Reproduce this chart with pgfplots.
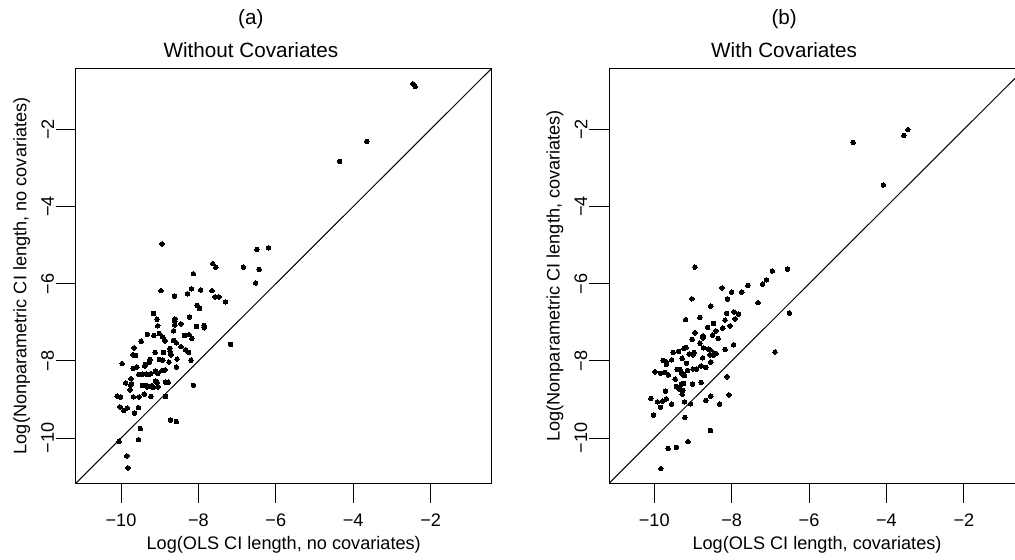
\documentclass[border=0pt]{standalone}
\usepackage{pgfplots}
\pgfplotsset{compat=1.18}
\usepackage{fontspec}
\setmainfont{Liberation Sans}
\pgfplotstableread{
x y
-2.46 -0.82
-2.40 -0.89
-3.65 -2.31
-4.35 -2.83
-8.94 -4.97
-6.49 -5.11
-6.19 -5.07
-7.63 -5.48
-7.55 -5.57
-6.84 -5.57
-6.43 -5.63
-8.13 -5.74
-6.52 -5.98
-8.97 -6.18
-8.18 -6.13
-8.28 -6.26
-7.94 -6.16
-7.65 -6.18
-8.62 -6.32
-7.57 -6.34
-7.47 -6.34
-7.30 -6.47
-8.03 -6.56
-7.97 -6.64
-9.16 -6.77
-9.07 -6.92
-8.61 -6.91
-8.61 -6.98
-8.61 -7.07
-8.64 -7.22
-8.45 -7.04
-8.23 -6.86
-8.05 -7.11
-7.85 -7.08
-7.85 -7.14
-9.05 -7.09
-9.32 -7.31
-9.15 -7.34
-9.01 -7.29
-8.92 -7.38
-8.36 -7.34
-8.24 -7.32
-8.17 -7.42
-9.48 -7.49
-8.86 -7.48
-8.64 -7.47
-8.57 -7.53
-9.66 -7.66
-8.74 -7.68
-8.73 -7.75
-8.71 -7.84
-8.45 -7.63
-8.33 -7.71
-8.25 -7.78
-9.12 -7.78
-8.90 -7.78
-9.69 -7.84
-9.62 -7.86
-9.01 -7.96
-8.92 -7.98
-9.25 -7.96
-9.27 -8.04
-9.37 -8.09
-8.76 -8.03
-8.55 -7.95
-8.19 -7.98
-9.97 -8.07
-9.69 -8.19
-9.59 -8.16
-9.39 -8.13
-8.57 -8.16
-8.94 -8.25
-8.86 -8.23
-9.11 -8.26
-9.05 -8.33
-9.54 -8.35
-9.44 -8.34
-9.35 -8.34
-9.29 -8.35
-9.23 -8.33
-9.74 -8.46
-9.88 -8.57
-9.73 -8.59
-9.75 -8.62
-9.11 -8.52
-9.07 -8.56
-8.85 -8.55
-8.78 -8.55
-9.45 -8.63
-9.36 -8.63
-9.29 -8.66
-9.21 -8.64
-9.17 -8.68
-9.33 -8.67
-9.04 -8.67
-9.77 -8.75
-8.13 -8.63
-10.10 -8.91
-10.01 -8.94
-9.68 -8.93
-9.53 -8.93
-9.40 -8.86
-9.23 -8.92
-8.85 -8.92
-10.03 -9.19
-9.93 -9.28
-9.84 -9.22
-9.65 -9.35
-9.55 -9.21
-8.72 -9.53
-8.57 -9.57
-9.50 -9.75
-10.05 -10.08
-9.55 -10.04
-9.85 -10.46
-9.82 -10.77
-7.17 -7.57
}\dataA
\pgfplotstableread{
x y
-3.45 -2.01
-3.55 -2.16
-4.86 -2.34
-4.08 -3.44
-8.95 -5.57
-6.56 -5.62
-6.95 -5.67
-7.10 -5.90
-7.20 -6.01
-7.58 -6.04
-8.25 -6.11
-8.00 -6.22
-8.11 -6.40
-7.74 -6.22
-9.03 -6.39
-7.32 -6.49
-8.54 -6.58
-6.51 -6.76
-8.13 -6.77
-7.94 -6.73
-7.91 -6.91
-7.82 -6.79
-9.19 -6.93
-8.82 -6.87
-8.47 -7.03
-8.17 -6.94
-8.04 -7.09
-8.23 -7.15
-8.62 -7.13
-8.95 -7.27
-8.41 -7.22
-8.49 -7.33
-8.74 -7.35
-8.74 -7.40
-8.35 -7.42
-9.02 -7.44
-8.82 -7.54
-7.95 -7.58
-9.23 -7.68
-9.18 -7.65
-8.73 -7.66
-8.60 -7.69
-8.56 -7.71
-8.17 -7.70
-9.51 -7.78
-9.37 -7.75
-9.10 -7.82
-9.00 -7.84
-8.97 -7.78
-8.46 -7.80
-8.40 -7.81
-8.47 -7.85
-8.56 -7.84
-9.28 -7.93
-8.75 -7.92
-9.55 -7.97
-9.77 -7.99
-9.69 -8.02
-9.69 -8.09
-8.54 -8.03
-9.17 -8.06
-8.79 -8.13
-8.67 -8.17
-9.41 -8.22
-9.34 -8.22
-9.14 -8.25
-9.00 -8.21
-8.91 -8.21
-9.98 -8.28
-9.84 -8.32
-9.72 -8.30
-9.64 -8.36
-9.26 -8.35
-9.22 -8.38
-9.30 -8.30
-9.46 -8.47
-8.12 -8.41
-9.24 -8.58
-9.30 -8.60
-9.01 -8.60
-8.79 -8.56
-9.43 -8.66
-9.36 -8.72
-9.26 -8.76
-9.33 -8.74
-9.28 -8.86
-9.71 -8.78
-10.09 -8.97
-9.92 -9.06
-9.69 -8.98
-9.78 -9.04
-9.55 -9.12
-9.84 -9.20
-9.22 -9.06
-9.06 -9.11
-8.67 -9.02
-8.54 -8.91
-8.31 -9.12
-8.07 -8.88
-10.02 -9.40
-9.21 -9.46
-8.55 -9.80
-9.13 -10.09
-9.64 -10.27
-9.43 -10.24
-9.83 -10.79
-6.88 -7.77
}\dataB
\pgfplotsset{rstyle/.style={
  scale only axis, width=312pt, height=311.25pt,
  xmin=-11.17, xmax=-0.42, ymin=-11.17, ymax=-0.42,
  axis line style={line width=0.75pt, black},
  tick align=outside, major tick length=15pt,
  every tick/.style={line width=0.75pt, black},
  xtick={-10,-8,-6,-4,-2}, ytick={-10,-8,-6,-4,-2},
  xticklabels={−10,−8,−6,−4,−2}, yticklabels={−10,−8,−6,−4,−2},
  xtick pos=bottom, ytick pos=left,
  x tick label style={anchor=center, yshift=-12.75pt},
  y tick label style={anchor=center, xshift=-6pt, rotate=90},
  xlabel style={at={(axis description cs:0.5,-0.149)}, anchor=center},
  ylabel style={at={(axis description cs:-0.130,0.5)}, anchor=center, rotate=0},
  clip mode=individual,
}}
\begin{document}
\begin{tikzpicture}[font=\fontsize{13.6}{16}\selectfont]
\useasboundingbox (0,0) rectangle (761.25pt,420pt);
\begin{axis}[rstyle, at={(56.8pt,57.5pt)}, anchor=south west,
  xlabel={Log(OLS CI length, no covariates)},
  ylabel={Log(Nonparametric CI length, no covariates)}]
\addplot[black, line width=0.75pt] coordinates {(-11.17,-11.17) (-0.42,-0.42)};
\addplot[only marks, mark=*, mark size=1.7pt, mark options={fill=black, draw=black, line width=0pt}] table[x=x,y=y] {\dataA};
\node[anchor=base, font=\fontsize{15.5}{18}\selectfont] at (axis description cs:0.421,1.105) {(a)};
\node[anchor=base, font=\fontsize{15.5}{18}\selectfont] at (axis description cs:0.421,1.027) {Without Covariates};
\end{axis}
\begin{axis}[rstyle, at={(456.75pt,57.5pt)}, anchor=south west,
  xlabel={Log(OLS CI length, covariates)},
  ylabel={Log(Nonparametric CI length, covariates)}]
\addplot[black, line width=0.75pt] coordinates {(-11.17,-11.17) (-0.42,-0.42)};
\addplot[only marks, mark=*, mark size=1.7pt, mark options={fill=black, draw=black, line width=0pt}] table[x=x,y=y] {\dataB};
\node[anchor=base, font=\fontsize{15.5}{18}\selectfont] at (axis description cs:0.421,1.105) {(b)};
\node[anchor=base, font=\fontsize{15.5}{18}\selectfont] at (axis description cs:0.421,1.027) {With Covariates};
\end{axis}
\end{tikzpicture}
\end{document}
